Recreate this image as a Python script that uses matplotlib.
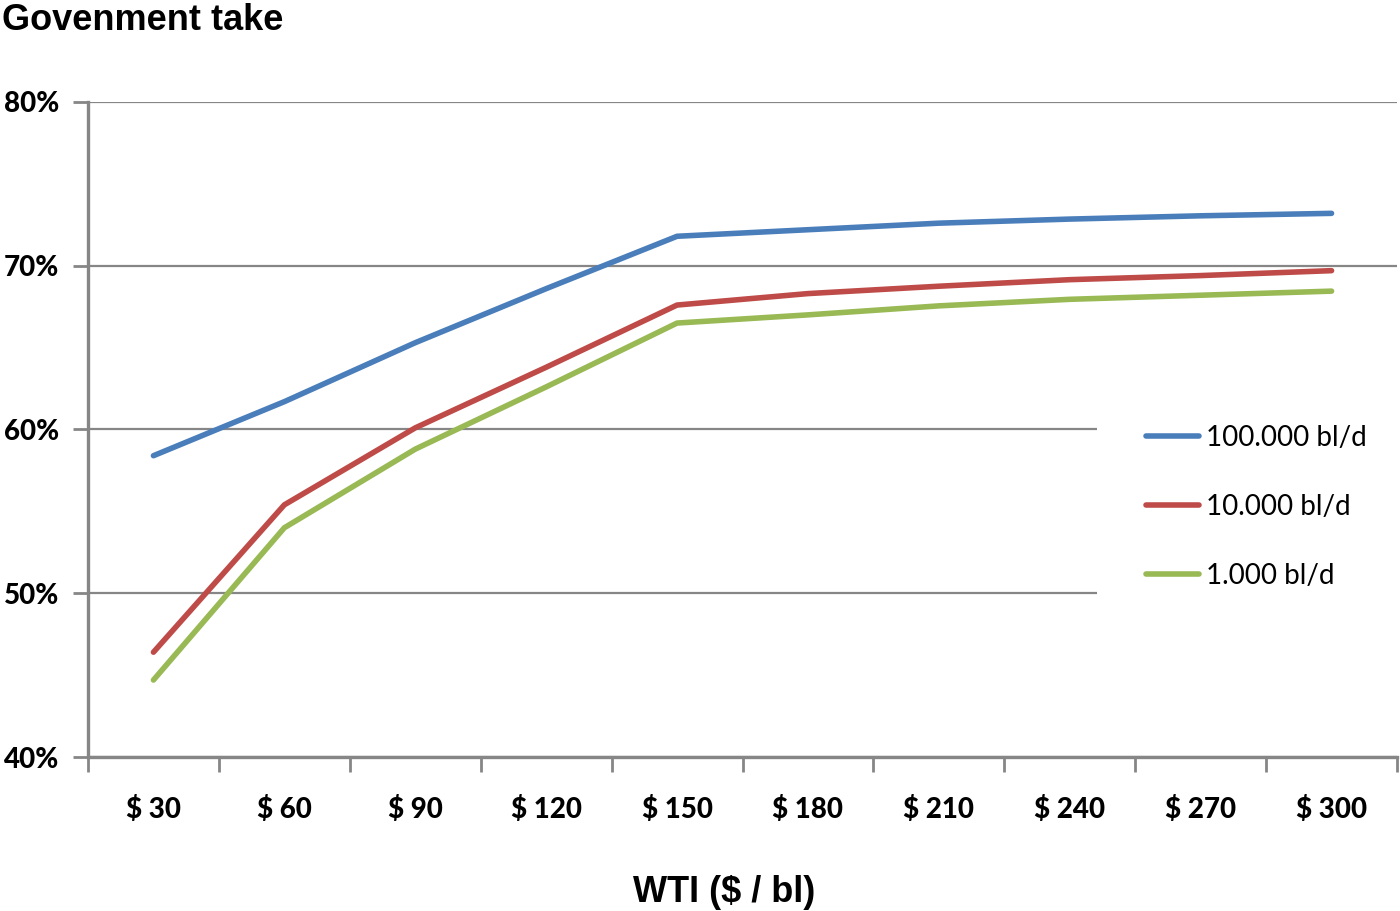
import matplotlib
matplotlib.use('Agg')
import matplotlib.pyplot as plt
import matplotlib.ticker as mticker
from matplotlib.patches import Rectangle

# WTI price categories and government take (%) per production level
prices = ['$ 30', '$ 60', '$ 90', '$ 120', '$ 150', '$ 180', '$ 210', '$ 240', '$ 270', '$ 300']
take_100k = [58.4, 61.7, 65.3, 68.6, 71.8, 72.2, 72.6, 72.85, 73.05, 73.2]
take_10k = [46.4, 55.4, 60.1, 63.8, 67.6, 68.3, 68.75, 69.15, 69.4, 69.7]
take_1k = [44.7, 54.0, 58.8, 62.6, 66.5, 67.0, 67.55, 67.95, 68.2, 68.45]
series_labels = ['100.000 bl/d', '10.000 bl/d', '1.000 bl/d']

W, H = 1400, 911
fig = plt.figure(figsize=(W / 100, H / 100), dpi=100)
ax = fig.add_axes([88 / W, 1 - 757 / H, 1309 / W, 655 / H])

x = list(range(len(prices)))
ax.plot(x, take_100k, color='#4a7ebb', lw=4, solid_capstyle='round', label=series_labels[0], zorder=3)
ax.plot(x, take_10k, color='#be4b48', lw=4, solid_capstyle='round', label=series_labels[1], zorder=3)
ax.plot(x, take_1k, color='#98b954', lw=4, solid_capstyle='round', label=series_labels[2], zorder=3)

ax.set_xlim(-0.5, len(prices) - 0.5)
ax.set_ylim(40, 80)
ax.set_yticks([40, 50, 60, 70, 80])
ax.yaxis.set_major_formatter(mticker.FuncFormatter(lambda v, p: '%d%%' % v))
ax.grid(axis='y', color='#868686', lw=1.6, zorder=1)

# category ticks sit between the price labels
ax.set_xticks([i - 0.5 for i in range(len(prices) + 1)])
ax.set_xticklabels([])
ax.set_xticks(x, minor=True)
ax.set_xticklabels(prices, minor=True)
ax.tick_params(axis='x', which='minor', length=0, pad=28)
ax.tick_params(axis='x', which='major', length=11, width=2, color='#868686')
ax.tick_params(axis='y', length=11, width=2, color='#868686', pad=10)

for lab in ax.get_xticklabels(minor=True) + ax.get_yticklabels():
    lab.set_fontfamily('Lato')
    lab.set_fontweight('black')
    lab.set_fontsize(20)

for side in ['top', 'right']:
    ax.spines[side].set_visible(False)
for side in ['left', 'bottom']:
    ax.spines[side].set_color('#868686')
    ax.spines[side].set_linewidth(2.4)

# white legend area hides the lower gridlines on the right
ax.set_zorder(1)
ax.patch.set_alpha(0)
fig.patches.append(Rectangle((1097 / W, 1 - 612 / H), 303 / W, 210 / H, transform=fig.transFigure,
                             facecolor='white', edgecolor='none', zorder=2))

leg = fig.legend(loc='upper left', bbox_to_anchor=(1146 / W, 1 - 425 / H), bbox_transform=fig.transFigure,
                 frameon=False, handlelength=1.9, handletextpad=0.25, labelspacing=1.55,
                 borderaxespad=0, borderpad=0, prop={'family': 'Lato', 'size': 20})

fig.text(2 / W, 1 - 30 / H, 'Govenment take', family='Liberation Sans', weight='bold',
         fontsize=26, va='baseline', ha='left')
fig.text(724 / W, 1 - 902 / H, 'WTI ($ / bl)', family='Liberation Sans', weight='bold',
         fontsize=26, va='baseline', ha='center')

plt.savefig('out.png', dpi=100)
